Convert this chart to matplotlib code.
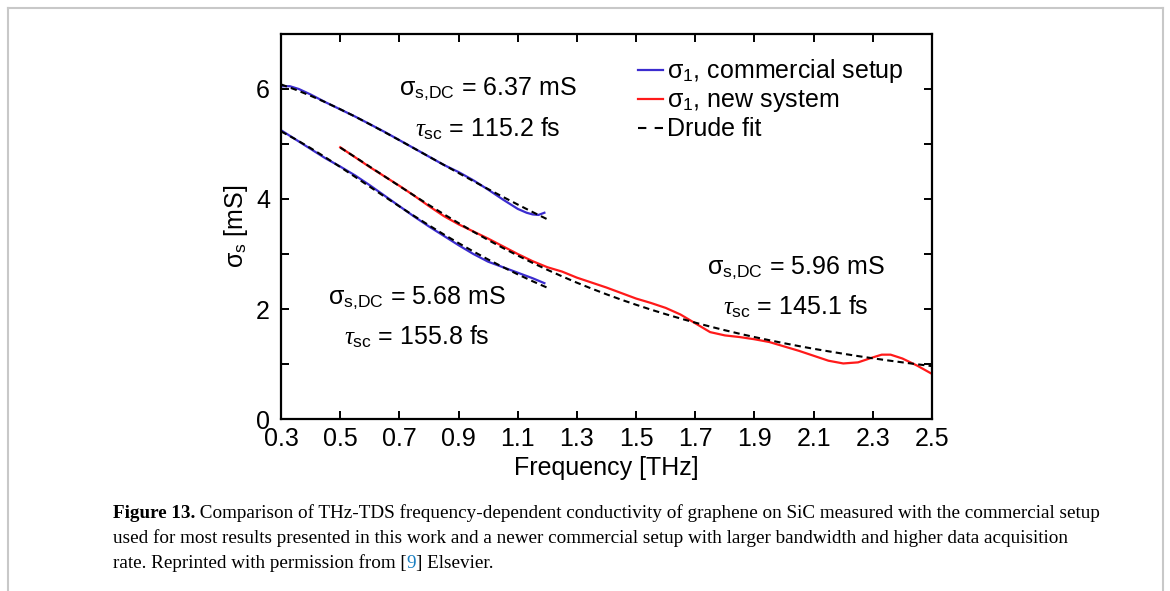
import matplotlib
matplotlib.use("Agg")
import matplotlib.pyplot as plt
from matplotlib.lines import Line2D

plt.rcParams['font.family'] = ['Liberation Sans', 'DejaVu Sans']
plt.rcParams['mathtext.fontset'] = 'custom'
plt.rcParams['mathtext.rm'] = 'Liberation Sans'
plt.rcParams['mathtext.it'] = 'Liberation Serif:italic'

# measured conductivity, commercial setup (two samples)
f_up = [0.30, 0.33, 0.36, 0.40, 0.45, 0.50, 0.55, 0.60, 0.65, 0.70, 0.75, 0.80,
        0.85, 0.90, 0.95, 1.00, 1.05, 1.10, 1.13, 1.15, 1.17, 1.19]
s_up = [6.05, 6.05, 6.00, 5.90, 5.76, 5.63, 5.50, 5.36, 5.22, 5.07, 4.92, 4.77,
        4.62, 4.49, 4.34, 4.17, 3.99, 3.82, 3.75, 3.72, 3.71, 3.75]
f_lo = [0.30, 0.35, 0.40, 0.45, 0.50, 0.55, 0.60, 0.65, 0.70, 0.75, 0.80, 0.85,
        0.90, 0.95, 1.00, 1.05, 1.10, 1.15, 1.19]
s_lo = [5.25, 5.08, 4.91, 4.74, 4.59, 4.43, 4.25, 4.06, 3.87, 3.68, 3.50, 3.33,
        3.16, 3.00, 2.86, 2.76, 2.66, 2.56, 2.47]

# measured conductivity, new system
f_red = [0.50, 0.55, 0.60, 0.65, 0.70, 0.75, 0.80, 0.85, 0.90, 0.95, 1.00, 1.05,
         1.10, 1.15, 1.20, 1.25, 1.30, 1.35, 1.40, 1.45, 1.50, 1.55, 1.60, 1.65,
         1.70, 1.75, 1.80, 1.85, 1.90, 1.95, 2.00, 2.05, 2.10, 2.15, 2.20, 2.25,
         2.30, 2.33, 2.36, 2.40, 2.45, 2.50]
s_red = [4.94, 4.76, 4.58, 4.41, 4.24, 4.06, 3.87, 3.69, 3.54, 3.41, 3.28, 3.14,
         3.00, 2.87, 2.76, 2.68, 2.57, 2.48, 2.39, 2.29, 2.19, 2.11, 2.02, 1.90,
         1.74, 1.58, 1.52, 1.49, 1.45, 1.40, 1.32, 1.24, 1.15, 1.06, 1.01, 1.03,
         1.12, 1.17, 1.17, 1.10, 0.97, 0.82]

# Drude fits
f_fit_c = [0.30, 0.35, 0.40, 0.45, 0.50, 0.55, 0.60, 0.65, 0.70, 0.75, 0.80,
           0.85, 0.90, 0.95, 1.00, 1.05, 1.10, 1.15, 1.20]
fit_up = [6.083, 5.986, 5.877, 5.759, 5.632, 5.499, 5.359, 5.215, 5.069, 4.920,
          4.770, 4.621, 4.472, 4.325, 4.180, 4.038, 3.899, 3.763, 3.631]
fit_lo = [5.229, 5.083, 4.925, 4.757, 4.582, 4.404, 4.223, 4.043, 3.865, 3.691,
          3.521, 3.356, 3.198, 3.046, 2.900, 2.762, 2.630, 2.505, 2.387]
f_fit_n = [0.50, 0.55, 0.60, 0.65, 0.70, 0.75, 0.80, 0.85, 0.90, 0.95, 1.00,
           1.05, 1.10, 1.15, 1.20, 1.25, 1.30, 1.35, 1.40, 1.45, 1.50, 1.55,
           1.60, 1.65, 1.70, 1.75, 1.80, 1.85, 1.90, 1.95, 2.00, 2.05, 2.10,
           2.15, 2.20, 2.25, 2.30, 2.35, 2.40, 2.45, 2.50]
fit_red = [4.935, 4.763, 4.587, 4.411, 4.235, 4.062, 3.890, 3.724, 3.562, 3.405,
           3.255, 3.110, 2.972, 2.839, 2.713, 2.593, 2.478, 2.370, 2.267, 2.169,
           2.077, 1.989, 1.906, 1.827, 1.752, 1.681, 1.614, 1.550, 1.490, 1.433,
           1.378, 1.326, 1.277, 1.231, 1.187, 1.144, 1.104, 1.066, 1.030, 0.995,
           0.962]

x_ticks = [0.3, 0.5, 0.7, 0.9, 1.1, 1.3, 1.5, 1.7, 1.9, 2.1, 2.3, 2.5]

blue = '#3b2ccf'
red = '#ff1a1a'
dash = (0, (3, 2))

fig = plt.figure(figsize=(11.7, 5.91), dpi=100)
ax = fig.add_axes([0.2402, 0.2910, 0.5564, 0.6515])

ax.plot(f_up, s_up, color=blue, lw=1.6)
ax.plot(f_lo, s_lo, color=blue, lw=1.6)
ax.plot(f_red, s_red, color=red, lw=1.6)
ax.plot(f_fit_c, fit_up, color='black', lw=1.5, ls=dash)
ax.plot(f_fit_c, fit_lo, color='black', lw=1.5, ls=dash)
ax.plot(f_fit_n, fit_red, color='black', lw=1.5, ls=dash)

ax.set_xlim(0.3, 2.5)
ax.set_ylim(0, 7)
ax.set_xticks(x_ticks)
ax.set_xticklabels([f"{v:.1f}" for v in x_ticks])
ax.set_yticks([0, 2, 4, 6])
ax.set_yticks([1, 3, 5], minor=True)
ax.tick_params(which='both', direction='in', top=True, right=True,
               length=6, width=1.4, labelsize=18)
ax.tick_params(axis='x', pad=6)
ax.tick_params(axis='y', pad=8)
for s in ax.spines.values():
    s.set_linewidth(1.6)

ax.set_xlabel('Frequency [THz]', fontsize=18)
ax.set_ylabel('σ$_{\\mathrm{s}}$ [mS]', fontsize=18)
ax.xaxis.set_label_coords(0.5, -0.096)
ax.yaxis.set_label_coords(-0.047, 0.5)

txt = dict(fontsize=18, ha='center', va='center')
ax.text(1.0, 6.00, 'σ$_{\\mathrm{s{,}DC}}$ = 6.37 mS', **txt)
ax.text(1.0, 5.28, '$\\tau_{\\mathrm{sc}}$ = 115.2 fs', **txt)
ax.text(0.76, 2.21, 'σ$_{\\mathrm{s{,}DC}}$ = 5.68 mS', **txt)
ax.text(0.76, 1.50, '$\\tau_{\\mathrm{sc}}$ = 155.8 fs', **txt)
ax.text(2.04, 2.75, 'σ$_{\\mathrm{s{,}DC}}$ = 5.96 mS', **txt)
ax.text(2.04, 2.05, '$\\tau_{\\mathrm{sc}}$ = 145.1 fs', **txt)

handles = [Line2D([], [], color=blue, lw=1.6),
           Line2D([], [], color=red, lw=1.6),
           Line2D([], [], color='black', lw=1.5, ls=(0, (4, 4)))]
labels = ['σ$_{\\mathrm{1}}$, commercial setup', 'σ$_{\\mathrm{1}}$, new system', 'Drude fit']
ax.legend(handles, labels, loc='upper left', bbox_to_anchor=(0.548, 0.939),
          frameon=False, fontsize=18, handlelength=1.0, handletextpad=0.15,
          labelspacing=0.12, borderpad=0, borderaxespad=0)

# caption
cap = dict(fontsize=13.8, family='Liberation Serif', va='bottom')
y1, y2, y3 = 1 - 522 / 591, 1 - 547 / 591, 1 - 572 / 591
x0 = 113 / 1170
t1 = fig.text(x0, y1, 'Figure 13.', fontweight='bold', **cap)
ax.annotate(' Comparison of THz-TDS frequency-dependent conductivity of graphene on SiC '
            'measured with the commercial setup', xy=(1, 0), xycoords=t1,
            annotation_clip=False, **cap)
fig.text(x0, y2, 'used for most results presented in this work and a newer commercial '
         'setup with larger bandwidth and higher data acquisition', **cap)
t3 = fig.text(x0, y3, 'rate. Reprinted with permission from [', **cap)
t4 = ax.annotate('9', xy=(1, 0), xycoords=t3, color='#1a7fc1', annotation_clip=False, **cap)
ax.annotate('] Elsevier.', xy=(1, 0), xycoords=t4, annotation_clip=False, **cap)

# page frame
frame = dict(color='#c8c8c8', lw=1.5, transform=fig.transFigure)
fig.add_artist(Line2D([8 / 1170, 1163 / 1170], [1 - 8 / 591, 1 - 8 / 591], **frame))
fig.add_artist(Line2D([8 / 1170, 8 / 1170], [0, 1 - 8 / 591], **frame))
fig.add_artist(Line2D([1163 / 1170, 1163 / 1170], [0, 1 - 8 / 591], **frame))

fig.savefig('out.png', dpi=100)
